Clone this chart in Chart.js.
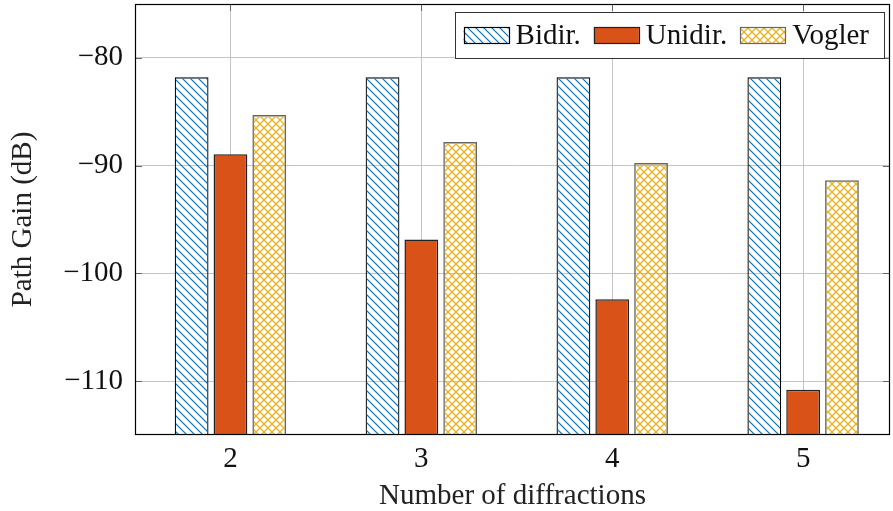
<!DOCTYPE html>
<html>
<head>
<meta charset="utf-8">
<script src="https://cdn.jsdelivr.net/npm/chart.js@4/dist/chart.umd.min.js"></script>
<style>
    html, body { margin: 0; padding: 0; background: #fff; }
    #wrap { width: 893px; height: 511px; position: relative; }
</style>
</head>
<body>
<div id="wrap"><canvas id="gainChart"></canvas></div>
<script>
// Data
const categories = ['2', '3', '4', '5'];
const xValues = [2, 3, 4, 5];
const bidirGain = [-81.8, -81.8, -81.8, -81.8];
const unidirGain = [-88.95, -96.85, -102.4, -110.8];
const voglerGain = [-85.3, -87.8, -89.75, -91.35];
const yTicks = [-80, -90, -100, -110];
const seriesNames = ['Bidir.', 'Unidir.', 'Vogler'];

const FONT = '"Liberation Serif", "Times New Roman", serif';
const FSIZE = 29;

// Hatch patterns like pgfplots
function hatchPattern(color) {
    const c = document.createElement('canvas');
    const s = 8;
    c.width = s; c.height = s;
    const g = c.getContext('2d');
    g.strokeStyle = color;
    g.lineWidth = 1.2;
    g.beginPath();
    g.moveTo(-2, -2); g.lineTo(s + 2, s + 2);
    g.moveTo(-2, s - 2); g.lineTo(2, s + 2);
    g.moveTo(s - 2, -2); g.lineTo(s + 2, 2);
    g.stroke();
    return g.createPattern(c, 'repeat');
}

function crossPattern(color) {
    const c = document.createElement('canvas');
    const s = 8;
    c.width = s; c.height = s;
    const g = c.getContext('2d');
    g.strokeStyle = color;
    g.lineWidth = 1.3;
    g.beginPath();
    g.moveTo(0, 0); g.lineTo(s, s);
    g.moveTo(s, 0); g.lineTo(0, s);
    g.stroke();
    return g.createPattern(c, 'repeat');
}

const bidirFill = hatchPattern('#0072BD');
const voglerFill = crossPattern('#EDB120');

function points(vals) {
    return vals.map((v, i) => ({ x: xValues[i], y: v }));
}

// Box, inner tick marks and legend drawn on the chart area
const framePlugin = {
    id: 'frame',
    beforeDatasetsDraw(chart) {
        const { ctx, chartArea: a, scales } = chart;
        ctx.save();
        ctx.strokeStyle = '#666';
        ctx.lineWidth = 1;
        ctx.beginPath();
        yTicks.forEach(t => {
            const y = Math.round(scales.y.getPixelForValue(t)) + 0.5;
            ctx.moveTo(a.left, y); ctx.lineTo(a.left + 7, y);
            ctx.moveTo(a.right, y); ctx.lineTo(a.right - 7, y);
        });
        xValues.forEach(t => {
            const x = Math.round(scales.x.getPixelForValue(t)) + 0.5;
            ctx.moveTo(x, a.top); ctx.lineTo(x, a.top + 7);
        });
        ctx.stroke();
        ctx.restore();
    },
    afterDraw(chart) {
        const { ctx, chartArea: a } = chart;
        ctx.save();
        ctx.strokeStyle = '#000';
        ctx.lineWidth = 1.2;
        ctx.strokeRect(a.left + 0.5, a.top + 0.5, a.right - a.left - 1, a.bottom - a.top - 1);

        // legend
        ctx.font = FSIZE + 'px ' + FONT;
        const sw = 45, sh = 16, gapText = 7, gapEntry = 13, pad = 9, padRight = 15;
        const widths = chart.data.datasets.map(d => ctx.measureText(d.label).width);
        let total = pad + padRight;
        widths.forEach((w, i) => { total += sw + gapText + w + (i > 0 ? gapEntry : 0); });
        const boxRight = a.right - 6;
        const boxLeft = boxRight - total;
        const boxTop = a.top + 8;
        const boxH = 46;
        ctx.fillStyle = '#fff';
        ctx.fillRect(boxLeft, boxTop, total, boxH);
        ctx.strokeStyle = '#333';
        ctx.lineWidth = 1;
        ctx.strokeRect(Math.round(boxLeft) + 0.5, boxTop + 0.5, Math.round(total), boxH);
        let x = boxLeft + pad;
        const midY = boxTop + boxH / 2;
        chart.data.datasets.forEach((d, i) => {
            ctx.fillStyle = d.backgroundColor;
            ctx.fillRect(x, midY - sh / 2, sw, sh);
            ctx.strokeStyle = d.borderColor;
            ctx.lineWidth = 1.2;
            ctx.strokeRect(Math.round(x) + 0.5, Math.round(midY - sh / 2) + 0.5, sw, sh);
            x += sw + gapText;
            ctx.fillStyle = '#111';
            ctx.textBaseline = 'middle';
            ctx.fillText(d.label, x, midY + 1);
            x += widths[i] + gapEntry;
        });
        ctx.restore();
    }
};

const ctxGain = document.getElementById('gainChart').getContext('2d');
new Chart(ctxGain, {
    type: 'bar',
    data: {
        datasets: [{
            label: seriesNames[0],
            data: points(bidirGain),
            backgroundColor: bidirFill,
            borderColor: '#000',
            borderWidth: 1.2,
            base: -115
        }, {
            label: seriesNames[1],
            data: points(unidirGain),
            backgroundColor: '#D95319',
            borderColor: '#222',
            borderWidth: 1.5,
            base: -115
        }, {
            label: seriesNames[2],
            data: points(voglerGain),
            backgroundColor: voglerFill,
            borderColor: '#666',
            borderWidth: 1.5,
            base: -115
        }]
    },
    options: {
        responsive: true,
        maintainAspectRatio: false,
        animation: false,
        categoryPercentage: 0.61,
        barPercentage: 0.87,
        layout: { padding: { top: 4, right: 3, left: 0, bottom: 0 } },
        plugins: {
            legend: { display: false },
            tooltip: { enabled: false }
        },
        scales: {
            x: {
                type: 'linear',
                min: 1.5,
                max: 5.455,
                offset: false,
                afterBuildTicks: scale => { scale.ticks = xValues.map(v => ({ value: v })); },
                afterFit: scale => {
                    scale.height = 76;
                    scale.paddingLeft = 0;
                    scale.paddingRight = 0;
                },
                ticks: {
                    callback: v => categories[xValues.indexOf(v)],
                    font: { family: FONT, size: FSIZE },
                    color: '#111',
                    padding: 7,
                    maxRotation: 0
                },
                grid: { color: '#c4c4c4', drawTicks: false, offset: false },
                border: { display: false },
                title: {
                    display: true,
                    text: 'Number of diffractions',
                    font: { family: FONT, size: FSIZE, lineHeight: 1.0 },
                    color: '#222',
                    padding: { top: 0, bottom: 0 }
                }
            },
            y: {
                min: -115,
                max: -75,
                afterBuildTicks: scale => { scale.ticks = yTicks.map(v => ({ value: v })); },
                afterFit: scale => {
                    scale.width = 135;
                    scale.paddingTop = 0;
                    scale.paddingBottom = 0;
                },
                ticks: {
                    callback: v => String(v).replace('-', '\u2212'),
                    font: { family: FONT, size: FSIZE },
                    color: '#111',
                    padding: 12
                },
                grid: { color: '#c4c4c4', drawTicks: false },
                border: { display: false },
                title: {
                    display: true,
                    text: 'Path Gain (dB)',
                    font: { family: FONT, size: FSIZE },
                    color: '#222',
                    padding: { top: 6, bottom: 0 }
                }
            }
        }
    },
    plugins: [framePlugin]
});
</script>
</body>
</html>
